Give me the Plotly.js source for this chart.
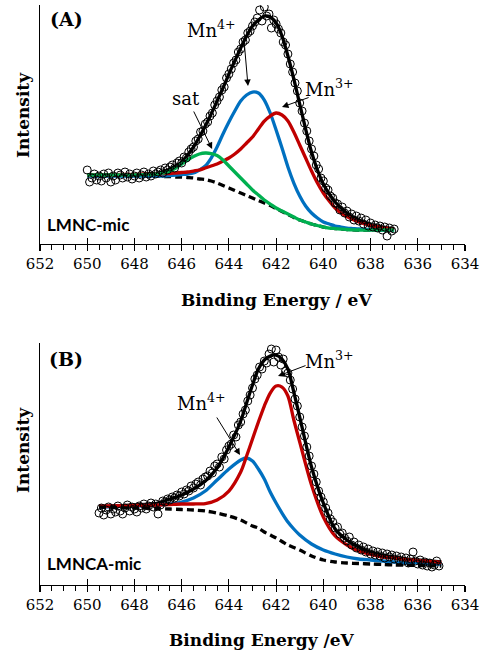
<!DOCTYPE html>
<html><head><meta charset="utf-8">
<script src="https://cdn.plot.ly/plotly-3.0.1.min.js"></script>
<style>html,body{margin:0;padding:0;background:#fff}#plot{width:489px;height:653px}</style>
</head><body><div id="plot"></div>
<script>
// ---------- Panel A (LMNC-mic) ----------
const beA = [650.0,649.9,649.8,649.7,649.6,649.5,649.4,649.3,649.2,649.1,649.0,648.9,648.8,648.7,648.6,648.5,648.4,648.3,648.2,648.1,648.0,647.9,647.8,647.7,647.6,647.5,647.4,647.3,647.2,647.1,647.0,646.9,646.8,646.7,646.6,646.5,646.4,646.3,646.2,646.1,646.0,645.9,645.8,645.7,645.6,645.5,645.4,645.3,645.2,645.1,645.0,644.9,644.8,644.7,644.6,644.5,644.4,644.3,644.2,644.1,644.0,643.9,643.8,643.7,643.6,643.5,643.4,643.3,643.2,643.1,643.0,642.9,642.8,642.7,642.6,642.5,642.4,642.3,642.2,642.1,642.0,641.9,641.8,641.7,641.6,641.5,641.4,641.3,641.2,641.1,641.0,640.9,640.8,640.7,640.6,640.5,640.4,640.3,640.2,640.1,640.0,639.9,639.8,639.7,639.6,639.5,639.4,639.3,639.2,639.1,639.0,638.9,638.8,638.7,638.6,638.5,638.4,638.3,638.2,638.1,638.0,637.9,637.8,637.7,637.6,637.5,637.4,637.3,637.2,637.1,637.0];
const dataA = [74,62,66,70,64,68,63,70,66,71,62,68,64,71,69,66,72,67,70,65,68,71,66,69,72,67,70,68,73,70,72,74,71,76,74,77,79,76,81,83,81,87,86,92,95,97,103,105,112,113,120,122,128,131,139,143,147,154,157,166,170,175,181,184,192,195,202,204,211,213,218,222,226,234,223,237,228,230,216,224,220,215,211,202,199,190,180,172,161,153,141,133,121,113,103,95,88,79,75,66,63,56,54,48,46,41,40,34,37,31,33,27,30,24,28,23,26,20,24,18,21,17,19,16,18,14,17,8,16,13,15];
const gridA = [650,649.5,649,648.5,648,647.5,647,646.75,646.5,646.25,646,645.75,645.5,645.25,645,644.75,644.5,644.25,644,643.75,643.5,643.25,643,642.75,642.5,642.25,642,641.75,641.5,641.25,641,640.75,640.5,640.25,640,639.75,639.5,639.25,639,638.75,638.5,638,637.5,637];
const fitA = [69,69,69,69,69,70,71,72.5,75,78,82,89,97,107,118,130,143,156,170,183,196,208,218,224,228,227,221,208,188,165,140,115,92,74,60,50,42,36,31,27,24,19.5,17,15];
const mn4A = [68,68,68,68,68,68,68,68,68.5,69,69.5,70,71,74,78,86,97,110,122,133,143,149,152,151,144,131,114,96,77,61,48,38,31,26,22,20,18,17,16,15.5,15,14.5,14,14];
const mn3A = [69,69,69,69.5,69.5,70,70,70.5,70.5,71,71.5,72,73,74,76,78,80,83,86,90,95,101,107,115,123,128,131,129,123,112,99,86,73,61,51,43,36,31,27.5,24.5,22,18.5,16.5,15];
const satA = [69,69,69,69,69,69.5,70,71,73,76,80,84,87.5,90,91,90.5,88.5,84,78,72,66,60,54,49,44,40,36,33,30,27,24,22,20,18.5,17,16,15.5,15,14.5,14.2,14,14,14,14];
const bgA  = [69,69,68.5,68.5,68.5,68,68,67.5,67.5,67,67,66.5,66,65,64.5,63,61,58.5,56,53.5,51,48.5,46,43.5,41,38.5,35.5,32.5,29.5,26.5,24,22,20,18.5,17,16,15.5,15,14.5,14.2,14,14,14,14];

// ---------- Panel B (LMNCA-mic) ----------
const beB = [649.5,649.4,649.3,649.2,649.1,649.0,648.9,648.8,648.7,648.6,648.5,648.4,648.3,648.2,648.1,648.0,647.9,647.8,647.7,647.6,647.5,647.4,647.3,647.2,647.1,647.0,646.9,646.8,646.7,646.6,646.5,646.4,646.3,646.2,646.1,646.0,645.9,645.8,645.7,645.6,645.5,645.4,645.3,645.2,645.1,645.0,644.9,644.8,644.7,644.6,644.5,644.4,644.3,644.2,644.1,644.0,643.9,643.8,643.7,643.6,643.5,643.4,643.3,643.2,643.1,643.0,642.9,642.8,642.7,642.6,642.5,642.4,642.3,642.2,642.1,642.0,641.9,641.8,641.7,641.6,641.5,641.4,641.3,641.2,641.1,641.0,640.9,640.8,640.7,640.6,640.5,640.4,640.3,640.2,640.1,640.0,639.9,639.8,639.7,639.6,639.5,639.4,639.3,639.2,639.1,639.0,638.9,638.8,638.7,638.6,638.5,638.4,638.3,638.2,638.1,638.0,637.9,637.8,637.7,637.6,637.5,637.4,637.3,637.2,637.1,637.0,636.9,636.8,636.7,636.6,636.5,636.4,636.3,636.2,636.1,636.0,635.9,635.8,635.7,635.6,635.5,635.4,635.3,635.2,635.1];
const dataB = [72,77,70,75,78,71,76,73,79,74,71,77,80,74,78,76,73,79,77,81,76,79,82,78,81,71,80,84,83,86,85,88,87,90,89,93,91,95,94,99,97,101,103,100,106,108,109,114,112,119,121,118,128,126,135,139,141,150,148,160,163,171,175,184,190,197,206,210,218,216,224,222,231,236,223,235,228,220,226,214,212,205,196,186,179,168,158,149,138,129,119,111,103,94,88,83,77,72,66,63,57,58,51,52,47,44,48,40,43,37,40,35,38,33,36,31,34,30,33,29,32,27,31,28,30,26,29,25,28,24,27,22,26,33,24,21,25,20,23,19,22,18,20,24,19];
const gridB = [649.5,649,648,647,646.5,646,645.5,645,644.5,644,643.5,643.25,643,642.75,642.5,642.25,642,641.75,641.5,641.25,641,640.5,640,639.5,639,638.5,638,637.5,637,636.5,636,635.5,635];
const fitB = [78,79,80,82,86,90,96,104,117,138,164,182,200,216,225,229,230,226,216,193,168,118,82,56,45,38,33,30,28,26,25,24,23];
const mn3B = [79,79,79.5,80,80.5,81,81,81.5,85,94,113,129,146,163,179,192,199,198,189,165,143,100,68,49,40,34,30.5,28,27,25.5,24.5,23.5,22.5];
const mn4B = [78,78.5,79,80,81,83,87,94,105,116,125,127,124,116,106,93,82,72,63,56,50,41,35,31,28,26,25,24,23,22,22,21,21];
const bgB  = [78,77.5,77,76.5,76,75.5,75,74,72,69,65,62,59,57,53,50,47,43.5,40,37.5,35,29,25,23,22,21.5,21,20.5,20,19.8,19.5,19.2,19];

const xTicks = ['652','650','648','646','644','642','640','638','636','634'];

const BLACK='#000000', BLUE='#0070C0', RED='#C00000', GREEN='#00B050';
const LW = 3.3;
function line(x,y,color,xa,ya,dash){
  return {x:x,y:y,type:'scatter',mode:'lines',xaxis:xa,yaxis:ya,hoverinfo:'skip',
    line:{color:color,width:LW,shape:'spline',smoothing:0.8,dash:dash||'solid'}};
}
function pts(x,y,xa,ya){
  return {x:x,y:y,type:'scatter',mode:'markers',xaxis:xa,yaxis:ya,hoverinfo:'skip',
    marker:{symbol:'circle-open',size:8,color:BLACK,line:{width:1,color:BLACK}}};
}
const traces = [
  line(gridA,bgA,BLACK,'x','y','7px,4px'),
  line(gridA,fitA,BLACK,'x','y'),
  line(gridA,mn4A,BLUE,'x','y'),
  line(gridA,mn3A,RED,'x','y'),
  line(gridA,satA,GREEN,'x','y'),
  pts(beA,dataA,'x','y'),
  line(gridB,fitB,BLACK,'x2','y2'),
  line(gridB,mn4B,BLUE,'x2','y2'),
  line(gridB,mn3B,RED,'x2','y2'),
  line(gridB,bgB,BLACK,'x2','y2','7px,4px'),
  pts(beB,dataB,'x2','y2'),
  {x:[],y:[],type:'scatter',xaxis:'x3',yaxis:'y'},
  {x:[],y:[],type:'scatter',xaxis:'x4',yaxis:'y2'}
];

const SERIF='DejaVu Serif';
const tickVals = xTicks.map(Number);
function xax(anchor){
  return {anchor:anchor,range:[652,634],tickmode:'array',tickvals:tickVals,ticktext:xTicks,
    ticks:'outside',ticklen:6,tickwidth:1.2,tickcolor:BLACK,showline:true,linecolor:BLACK,linewidth:1.3,
    showgrid:false,zeroline:false,tickfont:{family:SERIF,size:15,color:BLACK},
    minor:{dtick:0.5,tick0:634,ticks:'outside',ticklen:5,tickwidth:1,tickcolor:BLACK,showgrid:false}};
}
function xover(over,anchor){
  return {overlaying:over,anchor:anchor,range:[652,634],tickmode:'array',tickvals:tickVals,
    ticks:'inside',ticklen:6,tickwidth:1.2,tickcolor:BLACK,showticklabels:false,showline:false,
    showgrid:false,zeroline:false};
}
function yax(dom,rng,anchor){
  return {domain:dom,range:rng,anchor:anchor,showline:true,linecolor:BLACK,linewidth:1.3,ticks:'',
    showticklabels:false,showgrid:false,zeroline:false};
}
function txt(xr,yr,x,y,t,size,opts){
  return Object.assign({xref:xr,yref:yr,x:x,y:y,text:t,showarrow:false,xanchor:'center',yanchor:'middle',
    font:{family:SERIF,size:size,color:BLACK}},opts||{});
}
function arrow(xr,yr,tx,ty,hx,hy){
  return {xref:xr,yref:yr,axref:xr,ayref:yr,x:hx,y:hy,ax:tx,ay:ty,text:'',showarrow:true,
    arrowhead:2,arrowsize:1.3,arrowwidth:1,arrowcolor:BLACK,standoff:0,startstandoff:0};
}
const SANS = {family:'Lato',size:17,color:BLACK};
const annotations = [
  txt('x','y',650.86,225,'<b>(A)</b>',19),
  txt('x2','y2',650.9,226,'<b>(B)</b>',19),
  txt('x','y',651.79,20,'<b>LMNC-mic</b>',17,{xanchor:'left',font:SANS}),
  txt('x2','y2',651.79,22,'<b>LMNCA-mic</b>',17,{xanchor:'left',font:SANS}),
  txt('x','y',644.72,215,'Mn<sup>4+</sup>',18),
  txt('x','y',639.72,156,'Mn<sup>3+</sup>',18),
  txt('x','y',645.82,146,'sat',18),
  txt('x2','y2',639.72,225,'Mn<sup>3+</sup>',18),
  txt('x2','y2',645.14,183,'Mn<sup>4+</sup>',18),
  arrow('x','y',643.37,207,643.19,158),
  arrow('x','y',640.56,147,641.75,137),
  arrow('x','y',645.52,134,644.71,95),
  arrow('x2','y2',640.69,220,641.92,209),
  arrow('x2','y2',644.55,169,643.53,130),
  txt('paper','paper',0.5576,0.4914,'<b>Binding Energy / eV</b>',17),
  txt('paper','paper',0.52,-0.0948,'<b>Binding Energy /eV</b>',17),
  txt('paper','paper',-0.04,0.8103,'<b>Intensity</b>',17,{textangle:-90}),
  txt('paper','paper',-0.04,0.2328,'<b>Intensity</b>',17,{textangle:-90})
];

const layout = {
  width:489,height:653,margin:{l:40,r:24,t:5,b:68,pad:0},
  paper_bgcolor:'#ffffff',plot_bgcolor:'#ffffff',showlegend:false,
  font:{family:SERIF,color:BLACK},
  xaxis:xax('y'), xaxis2:xax('y2'),
  xaxis3:xover('x','y'), xaxis4:xover('x2','y2'),
  yaxis:yax([0.5879,1],[0,239],'x'),
  yaxis2:yax([0,0.4172],[0,242],'x2'),
  annotations:annotations
};
Plotly.newPlot('plot',traces,layout,{displayModeBar:false,staticPlot:true});
</script></body></html>
